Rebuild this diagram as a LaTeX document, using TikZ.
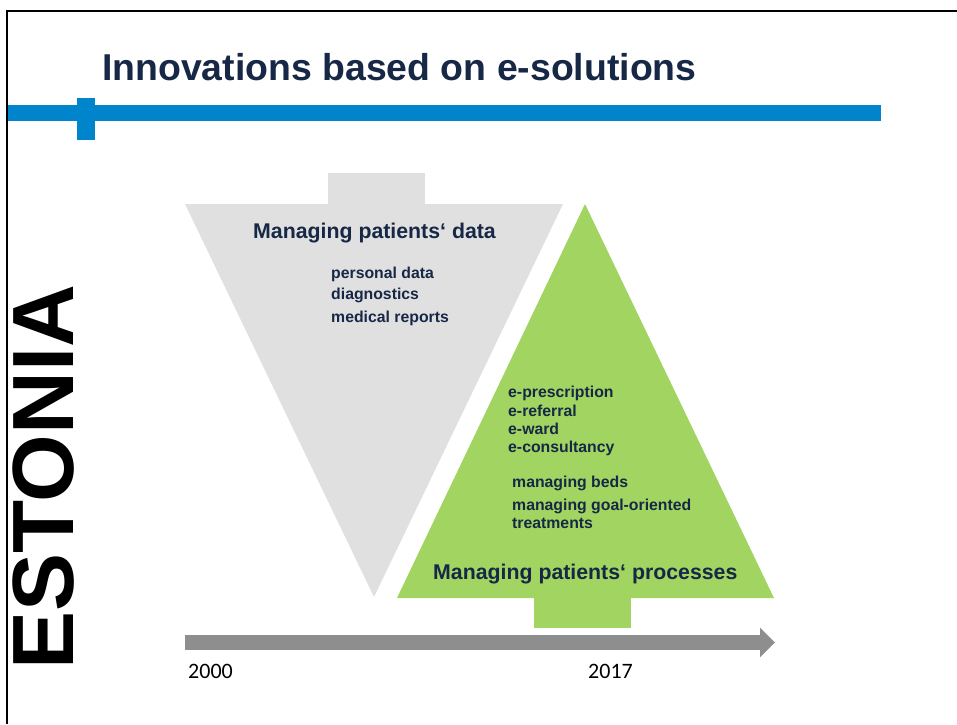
\documentclass[tikz,border=0pt]{standalone}
\usepackage{fontspec}
\setmainfont{Liberation Sans}
\newfontfamily\yearfont{Carlito}
\usetikzlibrary{arrows.meta}
\definecolor{navy}{RGB}{23,40,70}
\definecolor{barblue}{RGB}{0,133,204}
\definecolor{funnelgray}{RGB}{224,224,224}
\definecolor{treegreen}{RGB}{161,212,96}
\definecolor{arrowgray}{RGB}{142,142,142}
\tikzset{
  item/.style={anchor=base west, inner sep=0pt, text=navy, font=\bfseries\fontsize{15.8}{18}\selectfont},
  heading/.style={anchor=base west, inner sep=0pt, text=navy, font=\bfseries\fontsize{21.3}{25}\selectfont},
  year/.style={anchor=base west, inner sep=0pt, font=\yearfont\fontsize{22}{26}\selectfont}
}

\begin{document}
\begin{tikzpicture}[x=1pt,y=-1pt]
\useasboundingbox (0,0) rectangle (957,724);
\draw [line width=2pt] (7,724)--(7,11)--(957,11);
\fill [barblue] (8,105) rectangle (881,121);
\fill [barblue] (77,98) rectangle (95,140);
\node [anchor=base west, inner sep=0pt, text=navy, font=\bfseries\fontsize{37.4}{44}\selectfont] (title) at (102,80) {Innovations based on e-solutions};
\node [rotate=90, anchor=base west, inner sep=0pt, font=\bfseries\fontsize{87}{100}\selectfont] (country) at (73,670) {ESTONIA};
% data funnel
\fill [funnelgray] (328,173) rectangle (425,205);
\fill [funnelgray] (185,204) -- (563,204) -- (374,597) -- cycle;
\node [heading] (data) at (253,238) {Managing patients‘ data};
\node [item] (personal) at (331,278) {personal data};
\node [item] (diag) at (331,299) {diagnostics};
\node [item] (reports) at (331,322) {medical reports};
% process tree
\fill [treegreen] (585,204) -- (774,598) -- (397,598) -- cycle;
\fill [treegreen] (534,597) rectangle (631,628);
\node [item] (presc) at (508,397) {e-prescription};
\node [item] (referral) at (508,416) {e-referral};
\node [item] (ward) at (508,434) {e-ward};
\node [item] (consult) at (508,452) {e-consultancy};
\node [item] (beds) at (512,487) {managing beds};
\node [item] (goal) at (512,510) {managing goal-oriented};
\node [item] (treat) at (512,528) {treatments};
\node [heading] (processes) at (433,579) {Managing patients‘ processes};
% timeline
\coordinate (t0) at (185,642.5);
\coordinate (t1) at (775,642.5);
\draw [arrowgray, line width=15pt, -{Triangle[length=15pt,width=29pt]}] (t0) -- (t1);
\node [year] (start) at (188,678) {2000};
\node [year] (end) at (588,678) {2017};
\end{tikzpicture}
\end{document}
